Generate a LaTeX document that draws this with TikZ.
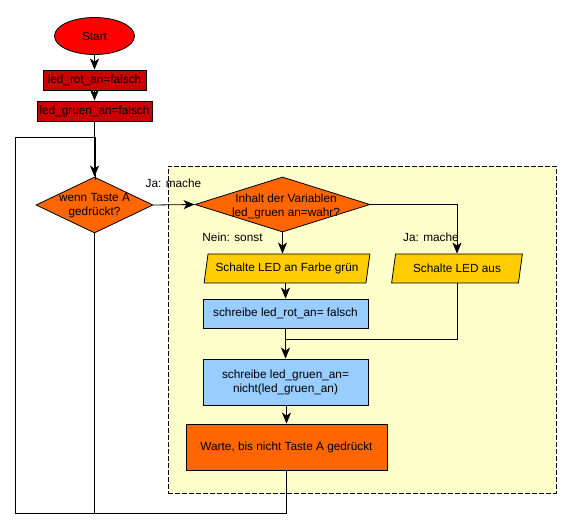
\documentclass[tikz,border=0pt]{standalone}
\usepackage{fontspec}
\setmainfont{Liberation Sans}
\usetikzlibrary{shapes.geometric,arrows.meta}
\definecolor{cred}{HTML}{FF0000}
\definecolor{cdred}{HTML}{CC0000}
\definecolor{corange}{HTML}{FF6600}
\definecolor{cyellow}{HTML}{FFCC00}
\definecolor{cblue}{HTML}{99CCFF}
\definecolor{cframe}{HTML}{FFFFCC}
\begin{document}
\begin{tikzpicture}[x=1pt,y=-1pt,
  font=\fontsize{11.8}{14}\selectfont,
  line width=0.8pt,
  box/.style={draw, rectangle, inner sep=0pt, align=center},
  dia/.style={draw, diamond, inner sep=0pt, fill=corange},
  para/.style={draw, trapezium, trapezium left angle=72, trapezium right angle=108,
    trapezium stretches=true, inner sep=0pt, fill=cyellow},
  txt/.style={inner sep=0pt, align=center},
  arr/.style={-{Stealth[length=11pt,width=9pt,inset=3pt]}}]
\useasboundingbox (0,0) rectangle (571,529);

\node[draw, dash pattern=on 5pt off 2pt, fill=cframe, minimum width=388pt, minimum height=327pt, inner sep=0pt] (frame) at (362,329.5) {};

\node[draw, ellipse, fill=cred, minimum width=80pt, minimum height=37pt, inner sep=0pt] (start) at (94.5,36) {Start};
\node[box, fill=cdred, minimum width=103pt, minimum height=20pt] (b1) at (94.5,80) {led\_rot\_an=falsch};
\node[box, fill=cdred, minimum width=115pt, minimum height=20pt] (b2) at (94.5,111) {led\_gruen\_an=falsch};

\node[dia, minimum width=117pt, minimum height=56pt] (d1) at (94.5,205) {};
\node[txt] (d1t) at (94.5,206) {wenn Taste A\\gedrückt?};

\node[dia, minimum width=175pt, minimum height=55pt] (d2) at (282.5,204.5) {};
\node[txt] (d2t) at (286,206) {Inhalt der Variablen\\led\_gruen an=wahr?};

\node[para, minimum width=166pt, minimum height=29pt] (p1) at (287,268.5) {Schalte LED an Farbe grün};
\node[para, minimum width=132pt, minimum height=29pt] (p2) at (457,268.5) {Schalte LED aus};

\node[box, fill=cblue, minimum width=165pt, minimum height=29pt] (bl1) at (285.5,313.5) {schreibe led\_rot\_an= falsch};
\node[box, fill=cblue, minimum width=165pt, minimum height=46pt] (bl2) at (285.5,382) {schreibe led\_gruen\_an=\\nicht(led\_gruen\_an)};
\node[box, fill=corange, minimum width=201pt, minimum height=46pt] (w) at (286.5,447) {Warte, bis nicht Taste A gedrückt};

\node[txt] (l1) at (173.5,183) {Ja: mache};
\node[txt] (l2) at (232.5,237) {Nein: sonst};
\node[txt] (l3) at (431,237) {Ja: mache};

\coordinate (j) at (285.5,339);
\coordinate (c1) at (286.5,513);
\coordinate (c2) at (15,513);
\coordinate (c3) at (15,137);
\coordinate (c4) at (95.3,137);
\coordinate (c4b) at (95.3,180);
\coordinate (c5) at (94.5,513);

\draw (w.south) -- (c1) -- (c2) -- (c3) -- (c4) -- (c4b);
\draw[arr] (start) -- (b1);
\draw[arr] (b1) -- (b2);
\draw[arr] (b2) -- (d1);
\draw[arr] (d1.east) -- (d2.west);
\draw[arr] (d2.south) -- (p1.north -| d2.south);
\draw[arr] (d2.east) -| (p2.north);
\draw[arr] (p1.south -| bl1.north) -- (bl1.north);
\draw (p2.south) |- (j);
\draw[arr] (bl1.south) -- (bl2.north);
\draw[arr] (bl2.south -| w.north) -- (w.north);
\draw (d1.south) -- (c5);
\end{tikzpicture}
\end{document}
